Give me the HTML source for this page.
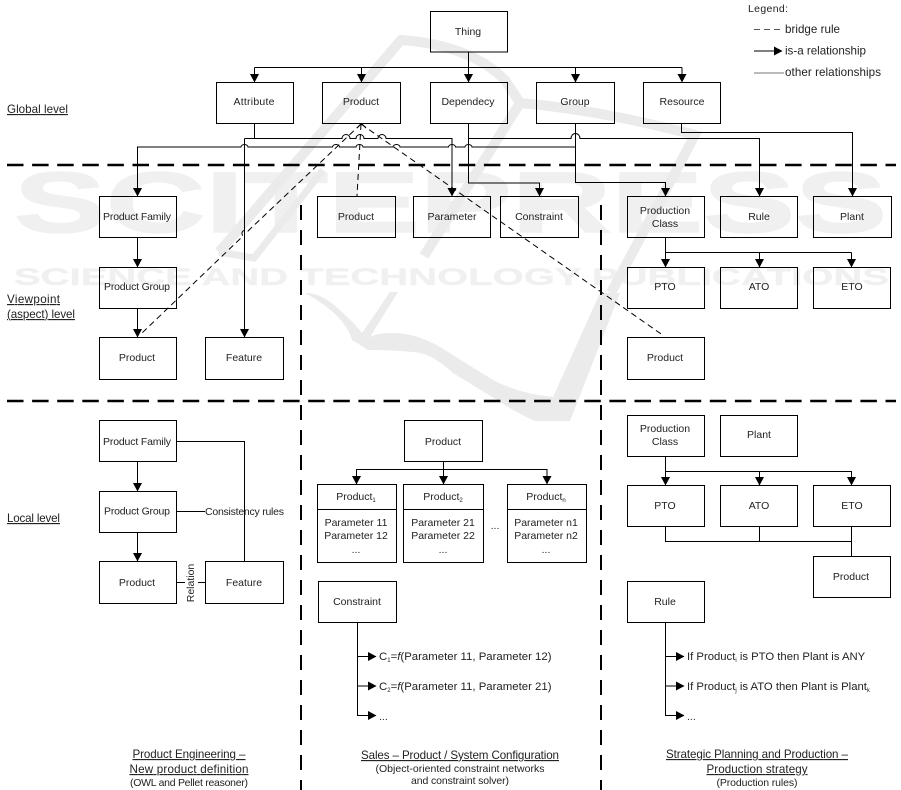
<!DOCTYPE html>
<html><head><meta charset="utf-8"><style>
html,body{margin:0;padding:0;background:#fff}
svg{display:block}
text{font-family:"Liberation Sans",sans-serif;font-size:10.5px;fill:#222;text-anchor:middle}
.l{text-anchor:start}
.u{text-decoration:underline}
.m{font-size:11.6px}
.f{font-size:11.3px}
.b{fill:none;stroke:#000;stroke-width:1}
.c{fill:none;stroke:#000;stroke-width:1}
.d{fill:none;stroke:#000;stroke-width:1;stroke-dasharray:6 4}
.t{fill:none;stroke:#000;stroke-width:2.4;stroke-dasharray:16.5 8.6}
.v{fill:none;stroke:#000;stroke-width:2;stroke-dasharray:15 10}
.w{fill:none;stroke:#ebebeb;stroke-width:10}
.wt{font-family:"Liberation Sans",sans-serif;font-weight:bold;fill:#f0f0f0;stroke:#f0f0f0;text-anchor:start}
</style></head><body>
<svg width="901" height="790" viewBox="0 0 901 790" xmlns="http://www.w3.org/2000/svg">
<defs><marker id="a" markerWidth="9" markerHeight="10" refX="8" refY="4.5" orient="auto" markerUnits="userSpaceOnUse"><path d="M0 0L8.500 4.500L0 9z" fill="#000"/></marker></defs>

<!-- watermark -->
<text class="wt" x="14" y="232" style="font-size:86px;stroke-width:1.500" textLength="873" lengthAdjust="spacingAndGlyphs">SCITEPRESS</text>
<text class="wt" x="14" y="285" style="font-size:24px;stroke-width:.3" textLength="875" lengthAdjust="spacingAndGlyphs">SCIENCE AND TECHNOLOGY PUBLICATIONS</text>
<path class="w" d="M219 252L401 40Q470 45 505 80Q515 95 520 103Q600 110 695 135L611 293"/>
<path class="w" d="M520 103L424 256"/>
<path class="w" d="M219 252L254 258L323 170" style="stroke-width:7"/>
<path d="M305 293Q322 292 343 313Q356 325 362 333L390 292H398L370 337Q380 332 397 333Q420 335 440 347L493 380Q520 394 553 397L600 293H620L570 421H535Q515 412 497 400L453 373Q430 352 413 352Q390 350 368 350L352 340Q345 315 305 293z" fill="#ebebeb"/>

<!-- thick dashed -->
<path class="t" d="M7 165H896M7 401H896"/>
<path class="v" d="M301 205V790M601 205V790"/>

<!-- top connectors -->
<path class="c" d="M254.500 67.500H682"/>
<path class="c" d="M468.500 52V82" marker-end="url(#a)"/>
<path class="c" d="M254.500 67.500V82" marker-end="url(#a)"/>
<path class="c" d="M361.500 67.500V82" marker-end="url(#a)"/>
<path class="c" d="M575.500 67.500V82" marker-end="url(#a)"/>
<path class="c" d="M682 67.500V82" marker-end="url(#a)"/>

<!-- global to viewpoint -->
<path class="c" d="M254.500 123.500V138.500"/>
<path class="c" d="M244.500 138.500H342a4 4 0 0 1 8 0H356a4 4 0 0 1 8 0H378a4 4 0 0 1 8 0H452V196" marker-end="url(#a)"/>
<path class="c" d="M244.500 138.500V337" marker-end="url(#a)"/>
<path class="c" d="M575.500 147H472a3.500 2.500 0 0 0 -7 0H455.500a3.500 2.500 0 0 0 -7 0H400a3.500 2.500 0 0 0 -7 0H363a3.500 2.500 0 0 0 -7 0H339.500a3.500 2.500 0 0 0 -7 0H248a3.500 2.500 0 0 0 -7 0H137.500V196" marker-end="url(#a)"/>
<path class="c" d="M468.500 123.500V183H539.500V196" marker-end="url(#a)"/>
<path class="c" d="M575.500 123.500V182.500H665.500V196" marker-end="url(#a)"/>
<path class="c" d="M468.500 138.500H571a4.500 5 0 0 1 9 0H759.500V196" marker-end="url(#a)"/>
<path class="c" d="M681.500 123.500V132.500H852.500V196" marker-end="url(#a)"/>

<!-- bridge rules -->
<path class="d" d="M361 124L248 231a3.500 3.500 0 0 0 -5 5L141 334"/>
<path class="d" d="M361 124L357 196"/>
<path class="d" d="M361 124L664 336"/>
<path d="M361.500 123.500L357 128M361.500 123.500L366 128" class="c"/>

<!-- viewpoint -->
<path class="c" d="M137.500 237.500V267" marker-end="url(#a)"/>
<path class="c" d="M137.500 308.500V337" marker-end="url(#a)"/>
<path class="c" d="M665.500 237.500V252.500H851.500"/>
<path class="c" d="M665.500 252.500V267" marker-end="url(#a)"/>
<path class="c" d="M759.500 252.500V267" marker-end="url(#a)"/>
<path class="c" d="M851.500 252.500V267" marker-end="url(#a)"/>

<!-- local left -->
<path class="c" d="M137.500 461.500V491" marker-end="url(#a)"/>
<path class="c" d="M137.500 532.500V561" marker-end="url(#a)"/>
<path class="c" d="M176.500 441.500H244.500V561.500"/>
<path class="c" d="M176.500 511.500H205"/>
<path class="c" d="M176.500 582.500H185M198 582.500H205.500"/>

<!-- local middle -->
<path class="c" d="M443.500 461.500V469.500H356.500V484" marker-end="url(#a)"/>
<path class="c" d="M443.500 469.500V484" marker-end="url(#a)"/>
<path class="c" d="M443.500 469.500H547V484" marker-end="url(#a)"/>
<path class="c" d="M357.500 622.500V715.500H376" marker-end="url(#a)"/>
<path class="c" d="M357.500 656.500H376" marker-end="url(#a)"/>
<path class="c" d="M357.500 686H376" marker-end="url(#a)"/>

<!-- local right -->
<path class="c" d="M665.500 456.500V485" marker-end="url(#a)"/>
<path class="c" d="M665.500 471.500H851.500V485" marker-end="url(#a)"/>
<path class="c" d="M759.500 471.500V485" marker-end="url(#a)"/>
<path class="c" d="M665.500 526.500V541.500H851.500M759.500 526.500V541.500M851.500 526.500V556.500"/>
<path class="c" d="M665.500 622.500V715.500H684" marker-end="url(#a)"/>
<path class="c" d="M665.500 656.500H684" marker-end="url(#a)"/>
<path class="c" d="M665.500 686H684" marker-end="url(#a)"/>

<!-- legend -->
<path class="d" d="M754 29.500H784" style="stroke:#555"/>
<path class="c" d="M754 51H782" marker-end="url(#a)"/>
<path class="c" d="M754 73H784" style="stroke:#777"/>

<!-- boxes -->
<rect class="b" x="430.500" y="11.500" width="77" height="40.500"/>
<rect class="b" x="216.500" y="82.500" width="77" height="41"/>
<rect class="b" x="322.500" y="82.500" width="78" height="41"/>
<rect class="b" x="430.500" y="82.500" width="77" height="41"/>
<rect class="b" x="536.500" y="82.500" width="78" height="41"/>
<rect class="b" x="643.500" y="82.500" width="77" height="41"/>
<rect class="b" x="99.500" y="196.500" width="77" height="41"/>
<rect class="b" x="317.500" y="196.500" width="78" height="41"/>
<rect class="b" x="413.500" y="196.500" width="77" height="41"/>
<rect class="b" x="500.500" y="196.500" width="78" height="41"/>
<rect class="b" x="627.500" y="196.500" width="77" height="41"/>
<rect class="b" x="720.500" y="196.500" width="77" height="41"/>
<rect class="b" x="813.500" y="196.500" width="78" height="41"/>
<rect class="b" x="99.500" y="267.500" width="77" height="41"/>
<rect class="b" x="627.500" y="267.500" width="77" height="41"/>
<rect class="b" x="720.500" y="267.500" width="77" height="41"/>
<rect class="b" x="813.500" y="267.500" width="77" height="41"/>
<rect class="b" x="99.500" y="337.500" width="77" height="42"/>
<rect class="b" x="205.500" y="337.500" width="78" height="42"/>
<rect class="b" x="627.500" y="337.500" width="77" height="42"/>
<rect class="b" x="99.500" y="420.500" width="77" height="41"/>
<rect class="b" x="99.500" y="491.500" width="77" height="41"/>
<rect class="b" x="99.500" y="561.500" width="77" height="42"/>
<rect class="b" x="205.500" y="561.500" width="78" height="42"/>
<rect class="b" x="404.500" y="420.500" width="78" height="41"/>
<rect class="b" x="317.500" y="484.500" width="79" height="78"/>
<path class="c" d="M317.500 509.500H396.500"/>
<rect class="b" x="403.500" y="484.500" width="80" height="78"/>
<path class="c" d="M403.500 509.500H483.500"/>
<rect class="b" x="507.500" y="484.500" width="79" height="78"/>
<path class="c" d="M507.500 509.500H586.500"/>
<rect class="b" x="318.500" y="581.500" width="78" height="41"/>
<rect class="b" x="627.500" y="415.500" width="77" height="41"/>
<rect class="b" x="720.500" y="415.500" width="77" height="41"/>
<rect class="b" x="627.500" y="485.500" width="77" height="41"/>
<rect class="b" x="720.500" y="485.500" width="77" height="41"/>
<rect class="b" x="813.500" y="485.500" width="77" height="41"/>
<rect class="b" x="813.500" y="556.500" width="77" height="41"/>
<rect class="b" x="627.500" y="581.500" width="77" height="41"/>

<!-- text -->
<text x="468" y="35">Thing</text>
<text x="254" y="105" textLength="41">Attribute</text>
<text x="361" y="105">Product</text>
<text x="468" y="105">Dependecy</text>
<text x="575" y="105">Group</text>
<text x="682" y="105">Resource</text>
<text x="137" y="220" textLength="68">Product Family</text>
<text x="356" y="220">Product</text>
<text x="452" y="220">Parameter</text>
<text x="539" y="220">Constraint</text>
<text x="665" y="214">Production</text>
<text x="665" y="227">Class</text>
<text x="759" y="220">Rule</text>
<text x="852" y="220">Plant</text>
<text x="137" y="290" textLength="66">Product Group</text>
<text x="665" y="290">PTO</text>
<text x="759" y="290">ATO</text>
<text x="852" y="290">ETO</text>
<text x="137" y="361">Product</text>
<text x="244" y="361">Feature</text>
<text x="665" y="361">Product</text>
<text x="137" y="445" textLength="68">Product Family</text>
<text x="137" y="514.500" textLength="66">Product Group</text>
<text x="137" y="586">Product</text>
<text x="244" y="586">Feature</text>
<text x="244.500" y="515" textLength="79">Consistency rules</text>
<text transform="translate(194,583) rotate(-90)">Relation</text>
<text x="443" y="445">Product</text>
<text x="356" y="500">Product<tspan dy="2" style="font-size:6px">1</tspan></text>
<text x="443" y="500">Product<tspan dy="2" style="font-size:6px">2</tspan></text>
<text x="546" y="500">Product<tspan dy="2" style="font-size:6px">n</tspan></text>
<text x="356" y="526">Parameter 11</text>
<text x="356" y="539">Parameter 12</text>
<text x="356" y="553">...</text>
<text x="443" y="526">Parameter 21</text>
<text x="443" y="539">Parameter 22</text>
<text x="443" y="553">...</text>
<text x="546" y="526">Parameter n1</text>
<text x="546" y="539">Parameter n2</text>
<text x="546" y="553">...</text>
<text x="495" y="529">...</text>
<text x="357" y="605">Constraint</text>
<text class="l f" x="379" y="660" style="font-size:11.400px">C<tspan dy="2" style="font-size:6px">1</tspan><tspan dy="-2">=</tspan><tspan style="font-style:italic">f</tspan>(Parameter 11, Parameter 12)</text>
<text class="l f" x="379" y="690" style="font-size:11.400px">C<tspan dy="2" style="font-size:6px">2</tspan><tspan dy="-2">=</tspan><tspan style="font-style:italic">f</tspan>(Parameter 11, Parameter 21)</text>
<text class="l" x="379" y="720">...</text>
<text x="665" y="432">Production</text>
<text x="665" y="445">Class</text>
<text x="759" y="438">Plant</text>
<text x="665" y="509">PTO</text>
<text x="759" y="509">ATO</text>
<text x="852" y="509">ETO</text>
<text x="851" y="580">Product</text>
<text x="665" y="605">Rule</text>
<text class="l f" x="687" y="660">If Product<tspan dy="2" style="font-size:6px">i</tspan><tspan dy="-2"> is PTO then Plant is ANY</tspan></text>
<text class="l f" x="687" y="690">If Product<tspan dy="2" style="font-size:6px">j</tspan><tspan dy="-2"> is ATO then Plant is Plant</tspan><tspan dy="2" style="font-size:6px">k</tspan></text>
<text class="l" x="687" y="720">...</text>

<text class="l u m" x="7" y="113" textLength="61">Global level</text>
<text class="l u m" x="7" y="303" textLength="53">Viewpoint</text>
<text class="l u m" x="7" y="318" textLength="68">(aspect) level</text>
<text class="l u m" x="7" y="522" textLength="53">Local level</text>

<text class="u m" x="189" y="758" textLength="113">Product Engineering –</text>
<text class="u m" x="189" y="773" textLength="119">New product definition</text>
<text x="189" y="786" textLength="118">(OWL and Pellet reasoner)</text>
<text class="u m" x="460" y="759" textLength="198">Sales – Product / System Configuration</text>
<text x="460" y="772" textLength="169">(Object-oriented constraint networks</text>
<text x="460" y="784" textLength="98">and constraint solver)</text>
<text class="u m" x="757" y="758" textLength="182">Strategic Planning and Production –</text>
<text class="u m" x="757" y="773" textLength="101">Production strategy</text>
<text x="757" y="786" textLength="81">(Production rules)</text>

<text class="l" x="748" y="12" textLength="40">Legend:</text>
<text class="l m" x="785" y="33" textLength="55">bridge rule</text>
<text class="l m" x="785" y="54.500" textLength="81">is-a relationship</text>
<text class="l m" x="785" y="76" textLength="96">other relationships</text>
</svg>
</body></html>
